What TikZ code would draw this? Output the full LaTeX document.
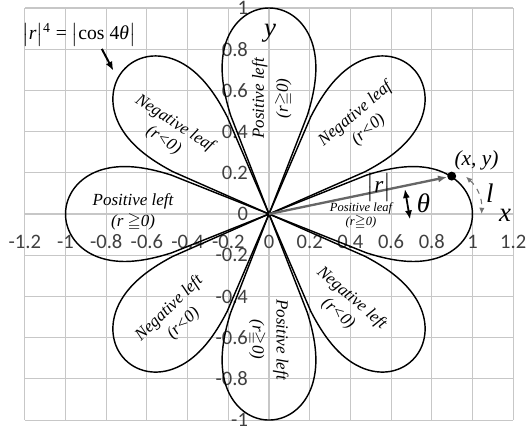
\documentclass[tikz,border=0pt]{standalone}
\usepackage{amsmath,amssymb}
\usepackage{fontspec}
\setmainfont{Liberation Serif}
\newfontfamily\tickfont{Carlito}
\usetikzlibrary{arrows.meta, positioning, calc}

\begin{document}
\begin{tikzpicture}[x=4cm, y=4.05cm, >={Latex[length=5pt,width=4pt]},
  gridline/.style={black!22, line width=0.6pt},
  leaf/.style={line width=0.8pt, line join=round},
  ticklabel/.style={font=\tickfont\fontsize{11.5}{12}\selectfont, text=black!75, inner sep=1pt},
  leaflabel/.style={font=\fontsize{9.5}{11.5}\selectfont\itshape, align=center, inner sep=0pt},
  mathlabel/.style={font=\fontsize{15}{16}\selectfont\itshape, inner sep=0pt}]

  \useasboundingbox (-1.322,-1.0485) rectangle (1.268,1.0388);

  % --- grid ---
  \foreach \gx in {-1.2,-1.0,...,1.21} \draw[gridline] (\gx,-1) -- (\gx,1);
  \foreach \gy in {-1.0,-0.8,...,1.01} \draw[gridline] (-1.2,\gy) -- (1.2,\gy);

  % --- tick labels ---
  \foreach \v [count=\i] in {-1.2,-1,-0.8,-0.6,-0.4,-0.2,0,0.2,0.4,0.6,0.8,1,1.2}
    \node[ticklabel] (xt\i) at (\v,-0.136) {\v};
  \foreach \v [count=\i] in {-1,-0.8,-0.6,-0.4,-0.2,0,0.2,0.4,0.6,0.8,1}
    \node[ticklabel, anchor=east] (yt\i) at (-0.093,\v) {\v};

  % --- eight leaves of |r|^4 = |cos 4 theta| ---
  \coordinate (O) at (0,0);
  \foreach \c in {0,45,...,315}
    \draw[leaf] (O) -- plot[domain=31:149, samples=100, variable=\t]
      ({\c + ((\t<90)*2-1)*acos(sin(\t)*sin(\t)*sin(\t)*sin(\t))/4}:{sin(\t)}) -- cycle;

  % --- leaf labels ---
  \node[leaflabel, rotate=90]  (lftop) at (0.015,0.561)   {Positive left\\[2pt](r$\geqq$0)};
  \node[leaflabel, rotate=40]  (lfur)  at (0.457,0.447)   {Negative leaf\\(r<0)};
  \node[leaflabel, rotate=-33] (lful)  at (-0.491,0.398)  {Negative leaf\\(r<0)};
  \node[leaflabel]             (lfl)   at (-0.668,0.01)   {Positive left\\(r $\geqq$0)};
  \node[leaflabel, rotate=44]  (lfll)  at (-0.455,-0.495) {Negative left\\(r<0)};
  \node[leaflabel, rotate=-90] (lfbot) at (-0.003,-0.609) {Positive left\\[2pt](r$\geqq$0)};
  \node[leaflabel, rotate=-41] (lflr)  at (0.373,-0.447)  {Negative left\\(r<0)};

  % --- point on the curve and radius vector ---
  \node[circle, fill=black, inner sep=0pt, minimum size=5pt] (pt) at (0.898,0.184) {};
  \draw[->, black!60, line width=1.3pt] (O) -- (pt);
  \node[font=\fontsize{12}{13}\selectfont\itshape, inner sep=0pt] (xy) at (1.02,0.262) {(x, y)};
  \node[font=\fontsize{13}{14}\selectfont, inner sep=0pt] (rabs) at (0.54,0.131) {$\bigl|$\textit{r}$\bigr|$};
  \node[font=\fontsize{7}{8}\selectfont\itshape, align=center, inner sep=0pt] (posleaf) at (0.452,-0.011) {Positive leaf\\(r$\geqq$0)};

  % --- angle theta ---
  \coordinate (th1) at (0.668,0.121);
  \coordinate (th2) at (0.693,-0.026);
  \draw[<->, line width=1pt] (th1) -- (th2);
  \node[mathlabel] (theta) at (0.759,0.052) {θ};

  % --- arc length l ---
  \coordinate (l1) at (0.968,0.181);
  \coordinate (l2) at (1.045,0.0);
  \draw[<->, dashed, black!55, line width=0.6pt, >={Latex[length=3.5pt,width=3pt]}] (l1) to[bend left=25] (l2);
  \node[mathlabel] (ell) at (1.086,0.1) {l};

  % --- axis names ---
  \node[mathlabel] (xname) at (1.16,-0.005) {x};
  \node[mathlabel] (yname) at (0.005,0.877) {y};

  % --- equation with arrow ---
  \node[font=\fontsize{11}{12}\selectfont, inner sep=1pt] (eq) at (-0.934,0.869)
    {$\bigl|$\textit{r}$\bigr|$\textsuperscript{4} = $\bigl|$cos 4\textit{θ}$\bigr|$};
  \coordinate (eqtip) at (-0.765,0.696);
  \draw[->, line width=1.1pt] ([xshift=0.45cm]eq.south) -- (eqtip);

\end{tikzpicture}
\end{document}
